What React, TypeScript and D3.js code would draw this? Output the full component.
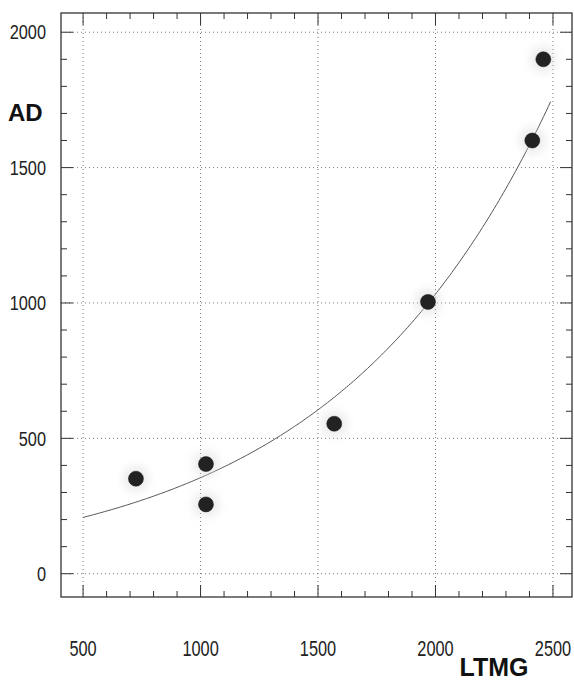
import React, { useEffect } from 'react';
import * as d3 from 'd3';

// measured values (LTMG vs AD)
const ltmg = [725, 1023, 1023, 1569, 1968, 2412, 2459];
const ad = [351, 405, 256, 554, 1004, 1600, 1900];

const xTicks = [500, 1000, 1500, 2000, 2500];
const yTicks = [0, 500, 1000, 1500, 2000];
const xMinor = d3.range(500, 2600, 100);
const yMinor = d3.range(0, 2100, 100);
const fitRange = [500, 2490];

const W = 574;
const H = 682;
const left = 61, right = 572, top = 13, bottom = 597;

const font = '"Liberation Sans", Arial, Helvetica, sans-serif';

// exponential fit y = a * exp(b x), least squares on ln y
function expFit(xs: number[], ys: number[]) {
  const ly = ys.map(v => Math.log(v));
  const mx = d3.mean(xs) as number;
  const my = d3.mean(ly) as number;
  const sxy = d3.sum(xs, (x, i) => (x - mx) * (ly[i] - my));
  const sxx = d3.sum(xs, x => (x - mx) * (x - mx));
  const b = sxy / sxx;
  const a = Math.exp(my - b * mx);
  return (x: number) => a * Math.exp(b * x);
}

const App = () => {
  useEffect(() => {
    document.body.style.margin = '0';
  }, []);

  const x = d3.scaleLinear().domain([406, 2581]).range([left, right]);
  const y = d3.scaleLinear().domain([-86, 2071]).range([bottom, top]);

  const fit = expFit(ltmg, ad);
  const curveXs = d3.range(fitRange[0], fitRange[1], 10).concat([fitRange[1]]);
  const line = d3.line<number>()
    .x(d => x(d))
    .y(d => y(fit(d)));

  const axisColor = '#333';
  const gridColor = '#777';

  return (
    <svg width={W} height={H} style={{ display: 'block', background: '#fff' }}>
      <defs>
        <filter id="halo" x="-100%" y="-100%" width="300%" height="300%">
          <feGaussianBlur stdDeviation="5" />
        </filter>
      </defs>

      {/* grid */}
      {xTicks.map(t => (
        <line key={'gx' + t} x1={x(t)} x2={x(t)} y1={top} y2={bottom}
          stroke={gridColor} strokeWidth={1} strokeDasharray="1,3" />
      ))}
      {yTicks.map(t => (
        <line key={'gy' + t} x1={left} x2={right} y1={y(t)} y2={y(t)}
          stroke={gridColor} strokeWidth={1} strokeDasharray="1,3" />
      ))}

      {/* frame */}
      <rect x={left} y={top} width={right - left} height={bottom - top}
        fill="none" stroke={axisColor} strokeWidth={1.3} />

      {/* ticks on all four sides */}
      {xMinor.map(t => {
        const len = t % 500 === 0 ? 12 : 6;
        return (
          <g key={'tx' + t} stroke={axisColor} strokeWidth={1}>
            <line x1={x(t)} x2={x(t)} y1={bottom} y2={bottom - len} />
            <line x1={x(t)} x2={x(t)} y1={top} y2={top + len} />
          </g>
        );
      })}
      {yMinor.map(t => {
        const len = t % 500 === 0 ? 12 : 6;
        return (
          <g key={'ty' + t} stroke={axisColor} strokeWidth={1}>
            <line x1={left} x2={left + len} y1={y(t)} y2={y(t)} />
            <line x1={right} x2={right - len} y1={y(t)} y2={y(t)} />
          </g>
        );
      })}

      {/* fitted curve */}
      <path d={line(curveXs) || ''} fill="none" stroke="#555" strokeWidth={1} />

      {/* points */}
      {ltmg.map((v, i) => (
        <circle key={'h' + i} cx={x(v)} cy={y(ad[i])} r={13} fill="#d8d8d8"
          opacity={0.5} filter="url(#halo)" />
      ))}
      {ltmg.map((v, i) => (
        <circle key={'p' + i} cx={x(v)} cy={y(ad[i])} r={7.5} fill="#222"
          stroke="#111" strokeWidth={0.5} />
      ))}

      {/* tick labels */}
      {yTicks.map(t => (
        <text key={'ly' + t} transform={`translate(46,${y(t)}) scale(0.86,1.05)`}
          dy="0.36em" textAnchor="end"
          fontFamily={font} fontSize={19} fill="#222">{t}</text>
      ))}
      {xTicks.map(t => (
        <text key={'lx' + t} transform={`translate(${x(t)},656) scale(0.86,1.2)`}
          textAnchor="middle" fontFamily={font} fontSize={19} fill="#222">{t}</text>
      ))}

      {/* axis titles */}
      <text x={8} y={121} fontFamily={font} fontWeight="bold" fontSize={24} fill="#111">AD</text>
      <text x={494} y={676} textAnchor="middle" fontFamily={font} fontWeight="bold"
        fontSize={25} fill="#111">LTMG</text>
    </svg>
  );
};

export default App;
